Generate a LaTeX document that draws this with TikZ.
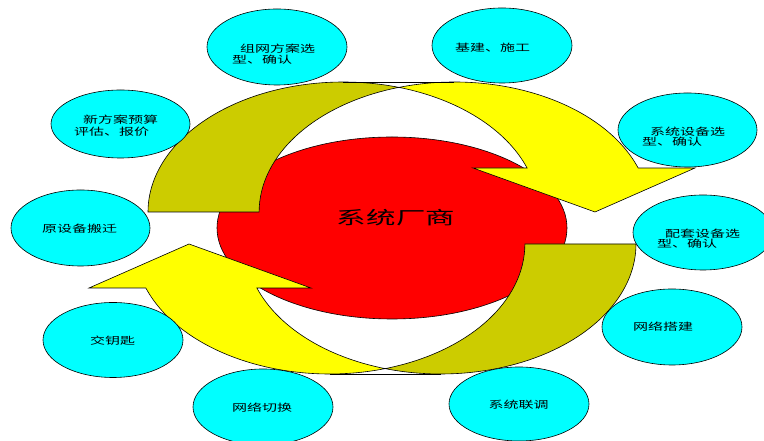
\documentclass[tikz,border=0pt]{standalone}
\usepackage{fontspec}
\newfontfamily\cjkS[FakeStretch=1.5]{Noto Sans CJK SC}
\newfontfamily\cjkB[FakeStretch=1.64]{Noto Sans CJK SC}
\usetikzlibrary{shapes.geometric}
\definecolor{cyanfill}{RGB}{0,255,255}
\definecolor{olivefill}{RGB}{204,204,0}
\definecolor{yellowfill}{RGB}{255,255,0}
\definecolor{redfill}{RGB}{255,0,0}
\newcommand{\myCurvedArrowPaths}{%
  \draw[backpart] (148,229)
    arc[start angle=180,end angle=73.47,x radius=195.3,y radius=130]
    arc[start angle=106.53,end angle=180,x radius=195.3,y radius=130] -- cycle;
  \draw[frontpart] (398.85,353.6)
    arc[start angle=106.53,end angle=19.78,x radius=195.3,y radius=130]
    -- (695,273) -- (595,229) -- (473,273) -- (527.09,273)
    arc[start angle=19.78,end angle=73.47,x radius=195.3,y radius=130] -- cycle;
  \draw[outline] (343.3,359) -- (454.4,359);
}
\begin{document}
\begin{tikzpicture}[x=1pt,y=1pt,
  outline/.style={draw=black,line width=0.6pt,line join=miter},
  backpart/.style={outline,fill=olivefill},
  frontpart/.style={outline,fill=yellowfill},
  bubble/.style={ellipse,draw=black,line width=0.6pt,fill=cyanfill,
    minimum width=140pt,minimum height=76pt,inner sep=0pt},
  txt/.style={inner sep=0pt,font=\cjkS\fontsize{10}{11}\selectfont,text=black},
  bigtxt/.style={inner sep=0pt,font=\cjkB\fontsize{18}{20}\selectfont,text=black}]
\useasboundingbox (0,0) rectangle (764,441);

% central red ellipse
\node[ellipse,draw=black,line width=0.6pt,fill=redfill,minimum width=350pt,
  minimum height=182pt,inner sep=0pt] (core) at (392,213) {};

% top curved arrow (pointing down-right)
\myCurvedArrowPaths
% bottom curved arrow: the same arrow turned half round the centre
\begin{scope}[rotate around={180:(392,213)}]
  \myCurvedArrowPaths
\end{scope}

% centre label
\node[bigtxt] (coretext) at (396,223) {系统厂商};

% cyan bubbles
\node[bubble] (b1) at (277,394) {};
\node[bubble,minimum height=75pt] (b2) at (502,395.5) {};
\node[bubble,minimum width=139pt,minimum height=68pt] (b3) at (120.5,317) {};
\node[bubble,minimum width=139pt,minimum height=74pt] (b4) at (687.5,311) {};
\node[bubble,minimum height=75pt] (b5) at (703,208.5) {};
\node[bubble] (b6) at (672,114) {};
\node[bubble,minimum height=74pt] (b7) at (519,37) {};
\node[bubble] (b8) at (263,34) {};
\node[bubble,minimum height=75pt] (b9) at (113,101) {};
\node[bubble,minimum width=139pt] (b10) at (80.5,213) {};

% bubble texts
\node[txt,anchor=west] (t1a) at (240,392) {组网方案选};
\node[txt,anchor=west] (t1b) at (232,381) {型、确认};
\node[txt] (t2) at (492.5,393) {基建、施工};
\node[txt,anchor=west] (t3a) at (83,321) {新方案预算};
\node[txt,anchor=west] (t3b) at (74,309) {评估、报价};
\node[txt,anchor=west] (t4a) at (650,309) {系统设备选};
\node[txt,anchor=west] (t4b) at (642,299) {型、确认};
\node[txt,anchor=west] (t5a) at (665,207) {配套设备选};
\node[txt,anchor=west] (t5b) at (657,197) {型、确认};
\node[txt] (t6) at (663,114) {网络搭建};
\node[txt] (t7) at (518.5,36) {系统联调};
\node[txt] (t8) at (262,33) {网络切换};
\node[txt] (t9) at (112.5,100) {交钥匙};
\node[txt] (t10) at (79.5,212) {原设备搬迁};
\end{tikzpicture}
\end{document}
